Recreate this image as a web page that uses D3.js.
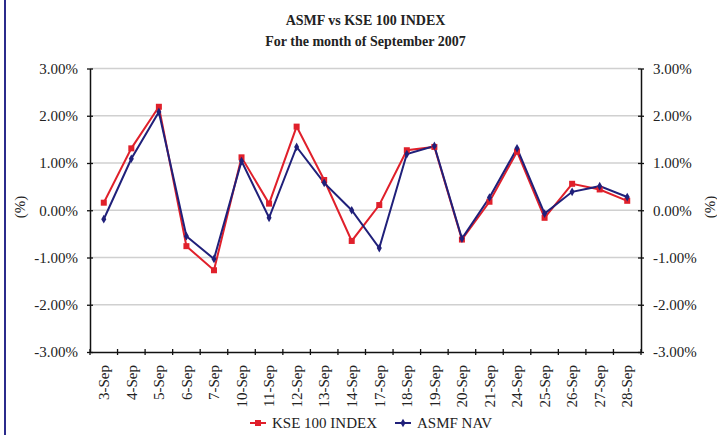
<!DOCTYPE html>
<html>
<head>
<meta charset="utf-8">
<title>ASMF vs KSE 100 INDEX</title>
<script src="https://d3js.org/d3.v7.min.js"></script>
<style>
  body { margin: 0; background: #fff; }
  svg text { font-family: "Liberation Serif", "Times New Roman", serif; fill: #222; }
</style>
</head>
<body>
<div id="chart"></div>
<script>
const days = ["3-Sep","4-Sep","5-Sep","6-Sep","7-Sep","10-Sep","11-Sep","12-Sep","13-Sep","14-Sep",
              "17-Sep","18-Sep","19-Sep","20-Sep","21-Sep","24-Sep","25-Sep","26-Sep","27-Sep","28-Sep"];
// daily returns, %
const kse  = [0.16, 1.31, 2.19, -0.76, -1.27, 1.12, 0.14, 1.77, 0.64, -0.65,
              0.11, 1.27, 1.34, -0.62, 0.18, 1.24, -0.16, 0.56, 0.44, 0.20];
const asmf = [-0.19, 1.09, 2.08, -0.55, -1.03, 1.04, -0.16, 1.34, 0.58, 0.00,
              -0.80, 1.19, 1.36, -0.60, 0.27, 1.31, -0.07, 0.39, 0.51, 0.28];
const yTicks = [-3, -2, -1, 0, 1, 2, 3];
const seriesNames = ["KSE 100 INDEX", "ASMF NAV"];
const colors = ["#e0202b", "#20207a"];

const W = 717, H = 435;
const margin = {top: 68.5, right: 76, bottom: 83, left: 90};
const width = W - margin.left - margin.right,
      height = H - margin.top - margin.bottom;

const svg = d3.select("#chart").append("svg")
    .attr("width", W)
    .attr("height", H);

// left border stripe
svg.append("rect").attr("x", 4).attr("y", 0).attr("width", 2).attr("height", H).attr("fill", "#2b2b8c");

const g = svg.append("g")
    .attr("transform", "translate(" + margin.left + "," + margin.top + ")");

const x = d3.scaleBand().domain(days).range([0, width]);
const y = d3.scaleLinear().domain([-3, 3]).range([height, 0]);
const fmt = d => d.toFixed(2) + "%";

// gridlines
g.selectAll("line.grid")
    .data(yTicks.filter(d => d !== -3))
    .enter().append("line")
    .attr("class", "grid")
    .attr("x1", 0).attr("x2", width)
    .attr("y1", d => y(d)).attr("y2", d => y(d))
    .attr("stroke", "#d0d0d0").attr("stroke-width", 1.3);

// left axis
const yl = g.append("g").call(d3.axisLeft(y).tickValues(yTicks).tickFormat(fmt).tickSizeInner(3).tickSizeOuter(0).tickPadding(9));
// right axis
const yr = g.append("g").attr("transform", "translate(" + width + ",0)")
    .call(d3.axisRight(y).tickValues(yTicks).tickFormat(fmt).tickSizeInner(3).tickSizeOuter(0).tickPadding(9));
[yl, yr].forEach(a => {
  a.select(".domain").attr("stroke", "#111").attr("stroke-width", 1.5);
  a.selectAll(".tick line").attr("stroke", "#111").attr("stroke-width", 1.3)
    .attr("x1", -3).attr("x2", 3);
  a.selectAll("text").style("font-size", "15px").attr("fill", "#222");
});

// x axis
const xa = g.append("g").attr("transform", "translate(0," + height + ")")
    .call(d3.axisBottom(x).tickSize(0).tickFormat(""));
xa.select(".domain").attr("stroke", "#111").attr("stroke-width", 1.5);
const xTickPos = d3.range(days.length + 1).map(i => i * x.step());
xa.selectAll("line.xt").data(xTickPos).enter().append("line")
    .attr("class", "xt")
    .attr("x1", d => d).attr("x2", d => d)
    .attr("y1", -3).attr("y2", 3)
    .attr("stroke", "#111").attr("stroke-width", 1.3);
xa.selectAll("text.xl").data(days).enter().append("text")
    .attr("class", "xl")
    .attr("transform", d => "translate(" + (x(d) + x.bandwidth() / 2) + ",13) rotate(-90)")
    .attr("text-anchor", "end")
    .attr("dy", "0.35em")
    .style("font-size", "15px")
    .text(d => d);

// axis titles
svg.append("text")
    .attr("transform", "translate(20,207) rotate(-90)")
    .attr("text-anchor", "middle").attr("dy", "0.35em")
    .style("font-size", "15px").text("(%)");
svg.append("text")
    .attr("transform", "translate(710,207) rotate(-90)")
    .attr("text-anchor", "middle").attr("dy", "0.35em")
    .style("font-size", "15px").text("(%)");

// title
svg.append("text")
    .attr("x", margin.left + width / 2).attr("y", 25)
    .attr("text-anchor", "middle")
    .style("font-size", "14px").style("font-weight", "bold")
    .text("ASMF vs KSE 100 INDEX");
svg.append("text")
    .attr("x", margin.left + width / 2).attr("y", 46)
    .attr("text-anchor", "middle")
    .style("font-size", "14px").style("font-weight", "bold")
    .text("For the month of September 2007");

// lines
const line = d3.line()
    .x((d, i) => x(days[i]) + x.bandwidth() / 2)
    .y(d => y(d));

[kse, asmf].forEach((vals, s) => {
  g.append("path")
      .datum(vals)
      .attr("fill", "none")
      .attr("stroke", colors[s])
      .attr("stroke-width", 2)
      .attr("d", line);
});

// markers
g.selectAll("rect.mk").data(kse).enter().append("rect")
    .attr("class", "mk")
    .attr("x", (d, i) => x(days[i]) + x.bandwidth() / 2 - 3)
    .attr("y", d => y(d) - 3)
    .attr("width", 6).attr("height", 6)
    .attr("fill", colors[0]);
const diamond = d3.symbol().type(d3.symbolDiamond).size(22);
g.selectAll("path.mk").data(asmf).enter().append("path")
    .attr("class", "mk")
    .attr("transform", (d, i) => "translate(" + (x(days[i]) + x.bandwidth() / 2) + "," + y(d) + ")")
    .attr("d", diamond)
    .attr("fill", colors[1]);

// legend
const lg = svg.append("g").attr("transform", "translate(250,423)");
const legX = [0, 145];
seriesNames.forEach((name, s) => {
  const item = lg.append("g").attr("transform", "translate(" + legX[s] + ",0)");
  item.append("line").attr("x1", 0).attr("x2", 16).attr("y1", 0).attr("y2", 0)
      .attr("stroke", colors[s]).attr("stroke-width", 2);
  if (s === 0) {
    item.append("rect").attr("x", 5).attr("y", -3).attr("width", 6).attr("height", 6).attr("fill", colors[s]);
  } else {
    item.append("path").attr("transform", "translate(8,0)").attr("d", diamond).attr("fill", colors[s]);
  }
  item.append("text").attr("x", 22).attr("dy", "0.35em")
      .style("font-size", "15px").text(name);
});
</script>
</body>
</html>
